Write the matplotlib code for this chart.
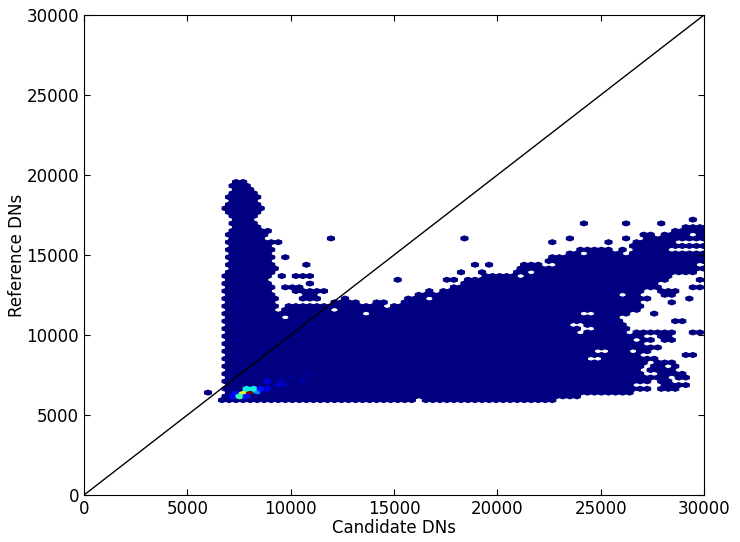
import numpy as np
import matplotlib
matplotlib.use("Agg")
import matplotlib.pyplot as plt

# Occupied stretches of Candidate DNs, one entry per 235 DN Reference level, from 5930 upward
row_spans = [
 [(6800,16000),(16500,22700)],
 [(6900,23700)],
 [(6950,24970),(25130,26420)],
 [(7000,27390),(27800,28760)],
 [(7000,26500),(28200,29240)],
 [(7000,26600),(26900,27300),(27800,28200)],
 [(7000,26900),(27100,27230),(27550,28000),(28840,29240)],
 [(7000,25700),(25950,26900),(27950,28350),(28760,29080)],
 [(7000,26900),(27500,27800),(28100,28400)],
 [(7000,26900),(27470,27790),(28440,28760)],
 [(7000,24200),(24500,27000),(27790,28280)],
 [(7000,24200),(25100,27000),(27150,27470)],
 [(7000,26660),(29080,29400)],
 [(7000,24000),(24300,24700),(25600,26200),(26800,27300)],
 [(7000,26900),(27230,27630)],
 [(7000,24600),(25000,25800),(26100,26900)],
 [(7000,26400),(27000,27500),(28050,28400)],
 [(7000,24800),(25100,26100),(26580,26980),(27950,28350)],
 [(7000,23800),(24300,26100),(26660,27300),(27630,27950),(28280,28600),(29500,29900)],
 [(7000,23700),(25000,26200)],
 [(7000,9000),(9300,10400),(10900,12500),(12800,23500),(24400,26200)],
 [(7000,9000),(9350,10100),(10400,11000),(11300,24400),(24700,26000),(28760,29080)],
 [(7000,9400),(9970,10290),(10600,11400),(11700,12400),(12600,13500),(13800,24600),(24900,25800)],
 [(7000,9600),(9970,10290),(10700,11600),(11900,12300),(12700,13300),(14000,23900),(24800,25500),(25600,26100),(27630,27700)],
 [(7000,9200),(9600,11900),(12300,13500),(13800,26300),(26500,26800)],
 [(7000,9100),(10050,11900),(12200,13700),(14000,14500),(15000,26900)],
 [(7000,8900),(12145,13200),(14100,14500),(15400,15700),(15800,26260),(26500,26900),(28400,28500)],
 [(7000,9300),(10600,11340),(15860,16340),(16900,26100),(26740,27150),(29240,29300)],
 [(7000,8900),(10600,11200),(16340,16740),(17000,25800),(26340,26660),(27950,28440)],
 [(7000,9000),(10400,11340),(11630,11700),(17227,25950),(26340,27000),(28030,28440)],
 [(7000,8900),(9900,10300),(18030,27300),(27470,27790),(29560,29700)],
 [(6950,8800),(18500,27600),(10800,11100)],
 [(7000,8800),(18700,19300),(19560,28000),(29700,30000)],
 [(6950,8900),(9500,9700),(10200,10800),(19324,19970),(20400,20900),(21500,28200)],
 [(7000,9000),(20800,21200),(21900,28500),(28760,29400)],
 [(7050,9200),(21000,21400),(21700,22000),(22400,29400),(29700,30200)],
 [(7050,9100),(21580,21985),(23000,29500)],
 [(7050,9000),(22400,23000),(23300,24000),(24300,26400),(26900,30000)],
 [(7050,8950),(22500,23000),(23400,24300),(24700,30200)],
 [(7100,8900),(23356,23840),(24500,25900),(26500,26800),(27000,30200)],
 [(7150,8900),(24000,24500),(24800,25450),(26000,26100),(26800,28100)],
 [(7100,8900),(26740,28030),(28200,29200),(29400,30200)],
 [(7050,9300),(26700,28300)],
 [(7100,8600),(27400,28000),(28200,29300),(29500,30200)],
 [(7150,8650),(27200,27500),(28200,29150),(29650,30200)],
 [(7130,8900),(28500,28900),(29100,30200)],
 [(7200,8300),(29000,30200)],
 [(7230,8250)],
 [(7230,8200)],
 [(7200,8350)],
 [(7000,8400)],
 [(6950,8500)],
 [(7100,7600),(8200,8500)],
 [(7100,7900),(8100,8350)],
 [(7100,8250)],
 [(7230,8200)],
 [(7230,8100)],
 [(7300,8000)],
 [(7500,7800)],
]

# Isolated occupied cells
lone_x = [6100, 11800, 18350, 9700, 10650, 15050, 17630, 18030, 18970, 19614, 19324, 18350,
          16550, 16985, 21260, 21745, 24325, 26340, 27950, 29400, 22740, 23550, 19615,
          19800, 26180, 12600, 14000, 14400, 25290, 24400, 26600]
lone_y = [6400, 15950, 15980, 14950, 14480, 13400, 13400, 13400, 14270, 14270, 13850, 13850,
          12770, 12560, 14270, 14480, 17020, 17020, 17020, 17250, 15770, 15980, 14270,
          13650, 15980, 12150, 11950, 11950, 15770, 6354, 6500]

# Cells with many pixels
hot_x = [8032, 7710, 7549, 7870, 8194, 8436, 7145, 7870, 7390, 8678, 8920, 9320, 9800, 10450, 9480, 10130, 9000, 10775]
hot_y = [6354, 6354, 6146, 6604, 6604, 6354, 6146, 6100, 6354, 6604, 6980, 6800, 6980, 7187, 7187, 7290, 6660, 7500]
hot_n = [100, 62, 42, 36, 36, 26, 10, 14, 14, 14, 8, 7, 5, 3, 4, 3, 9, 2]

x_ticks = [0, 5000, 10000, 15000, 20000, 25000, 30000]
y_ticks = [0, 5000, 10000, 15000, 20000, 25000, 30000]
axis_limit = 30000

XMIN, YMIN, DX, DY = 6000.0, 5930.0, 340.0, 470.0
NX, NY = 100, 58

xs, ys, ns = [], [], []
for j, spans in enumerate(row_spans):
    off = 0.5 * (j % 2)
    for a, b in spans:
        i0 = int(round((a - XMIN) / DX - off))
        i1 = int(round((b - XMIN) / DX - off))
        for i in range(i0, max(i0, i1) + 1):
            xs.append(XMIN + (i + off) * DX)
            ys.append(YMIN + j * DY / 2)
            ns.append(1)
xs += lone_x + hot_x
ys += lone_y + hot_y
ns += [1] * len(lone_x) + hot_n

plt.rcParams['font.family'] = 'DejaVu Sans'
fig = plt.figure(figsize=(7.40, 5.42), dpi=100)
ax = fig.add_axes([84/740, 1-495/542, 620/740, 480/542])
ax.hexbin(xs, ys, C=ns, reduce_C_function=np.sum, gridsize=(NX, NY),
          extent=(XMIN, XMIN + NX*DX, YMIN, YMIN + NY*DY),
          cmap='jet', vmin=1, vmax=100, linewidths=0.8, edgecolors='face')
ax.plot([0, axis_limit], [0, axis_limit], color='k', lw=1)
ax.set_xlim(0, axis_limit)
ax.set_ylim(0, axis_limit)
ax.set_xticks(x_ticks)
ax.set_yticks(y_ticks)
ax.tick_params(direction='in', length=4, width=0.8, top=True, right=True, labelsize=12, pad=3.5)
ax.set_xlabel('Candidate DNs', fontsize=12, labelpad=0.5)
ax.set_ylabel('Reference DNs', fontsize=12, labelpad=0.5)
fig.savefig('out.png', dpi=100)
